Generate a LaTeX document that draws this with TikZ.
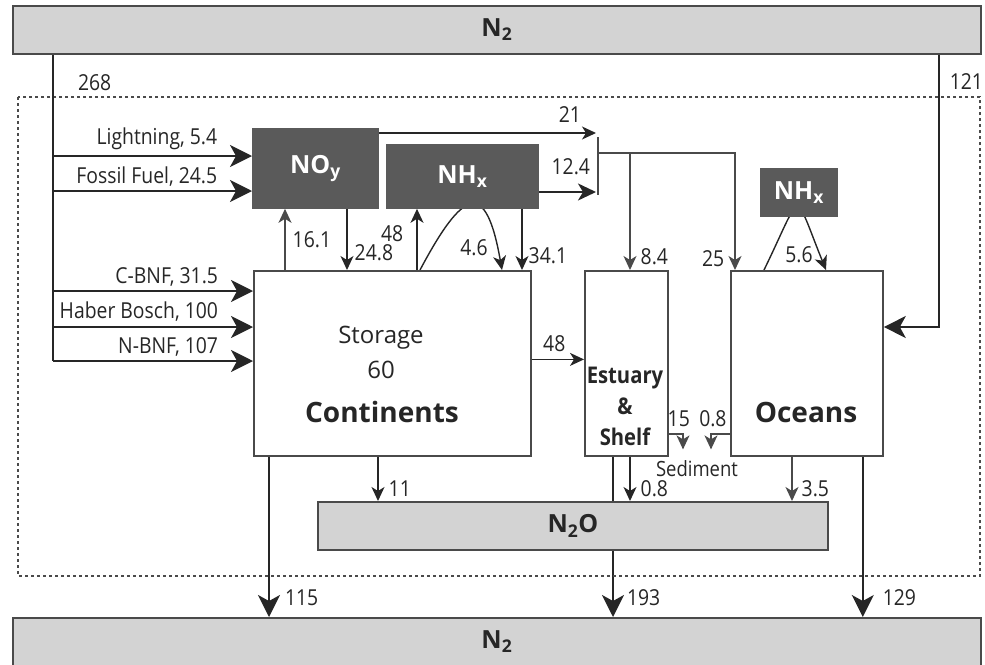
\documentclass[tikz,border=0pt]{standalone}
\usepackage{fontspec}
\setmainfont{Open Sans}
\newfontfamily\narrowfont{Open Sans}[FakeStretch=0.88]
\usepackage{tikz}
\usetikzlibrary{arrows.meta,positioning,calc,backgrounds}
\definecolor{nline}{HTML}{262626}
\definecolor{nedge}{HTML}{4A4A4A}
\definecolor{ndark}{HTML}{5A5A5A}
\definecolor{nlight}{HTML}{D3D3D3}

\begin{document}
\begin{tikzpicture}[
    x=1pt,
    y=-1pt,
    box/.style={rectangle, draw=nedge, line width=1.8pt, fill=white, anchor=north west, inner sep=0pt},
    pool/.style={box, fill=nlight, text=nline, font=\fontsize{25}{28}\selectfont\bfseries},
    gas/.style={box, draw=ndark, fill=ndark, text=white, font=\fontsize{25}{28}\selectfont\bfseries},
    flow/.style={draw=nline, line width=2pt},
    bigflow/.style={flow, -{Stealth[length=22pt, width=22pt, inset=6pt]}},
    midflow/.style={flow, -{Stealth[length=18pt, width=17pt, inset=5pt]}},
    smallflow/.style={draw=nline, line width=1.4pt, -{Stealth[length=14pt, width=13pt, inset=4pt]}},
    grayflow/.style={smallflow, draw=nedge},
    thinline/.style={draw=nedge, line width=1.4pt},
    num/.style={font=\narrowfont\fontsize{22}{24}\selectfont, text=nline, inner sep=2pt},
    src/.style={font=\narrowfont\fontsize{22}{26}\selectfont, text=nline, inner sep=0pt, anchor=base east},
    head/.style={font=\fontsize{28}{32}\selectfont\bfseries, text=nline},
    frame/.style={draw=nedge, line width=1.2pt, dash pattern=on 3pt off 3pt}
  ]
    \useasboundingbox (0,0) rectangle (985,664);
    \draw[frame] (18,97) rectangle (980,576);

    \node[pool, minimum width=968pt, minimum height=48pt] (n2top) at (12,5) {N\textsubscript{2}};
    \node[pool, minimum width=968pt, minimum height=48pt] (n2bot) at (12,617) {N\textsubscript{2}};
    \node[pool, minimum width=510pt, minimum height=48pt] (n2o) at (317,501) {N\textsubscript{2}O};

    \node[gas, minimum width=125pt, minimum height=79pt] (noy) at (252,128) {NO\textsubscript{y}};
    \node[gas, minimum width=151pt, minimum height=63pt] (nhxl) at (386,144) {NH\textsubscript{x}};
    \node[gas, minimum width=76pt, minimum height=47pt] (nhxr) at (760,168) {NH\textsubscript{x}};

    \node[box, minimum width=277pt, minimum height=185pt] (cont) at (253,270) {};
    \node[box, minimum width=83pt, minimum height=185pt] (est) at (584,270) {};
    \node[box, minimum width=152pt, minimum height=185pt] (ocean) at (730,270) {};

    \node[font=\fontsize{24}{28}\selectfont, text=nline] (storlab) at (381,338) {Storage};
    \node[font=\fontsize{24}{28}\selectfont, text=nline] (storval) at (381,370) {60};
    \node[head] (contlab) at (382,412) {Continents};
    \node[head] (oceanlab) at (806,412) {Oceans};
    \node[font=\narrowfont\bfseries\fontsize{23}{31}\selectfont, text=nline, align=center] (estlab) at (625,406) {Estuary\\\&\\Shelf};
    \node[font=\narrowfont\fontsize{21}{24}\selectfont, text=nline] (sedlab) at (697,469) {Sediment};

    \coordinate (trunk) at ([xshift=41pt]n2top.south west);
    \coordinate (lgt) at ([yshift=-28pt]noy.north west);
    \coordinate (fos) at ([yshift=-63pt]noy.north west);
    \coordinate (cbnf) at ([yshift=-21pt]cont.north west);
    \coordinate (hab) at ([yshift=-57pt]cont.north west);
    \coordinate (nbnf) at ([yshift=-91pt]cont.north west);
    \coordinate (mtop) at (596,133);
    \coordinate (mbot) at (596,192);
    \coordinate (mjoin) at (598,153);

    \draw[flow] (trunk) -- (trunk |- nbnf) node[num, right=22pt, pos=0.09] (l268) {268};
    \draw[bigflow] (trunk |- lgt) -- (lgt) node[src, pos=0.83, yshift=12pt] (lgtlab) {Lightning, 5.4};
    \draw[bigflow] (trunk |- fos) -- (fos) node[src, pos=0.83, yshift=8pt] (foslab) {Fossil Fuel, 24.5};
    \draw[bigflow] (trunk |- cbnf) -- (cbnf) node[src, pos=0.83, yshift=8pt] (cbnflab) {C-BNF, 31.5};
    \draw[bigflow] (trunk |- hab) -- (hab) node[src, pos=0.83, yshift=9pt] (hablab) {Haber Bosch, 100};
    \draw[bigflow] (trunk |- nbnf) -- (nbnf) node[src, pos=0.83, yshift=8pt] (nbnflab) {N-BNF, 107};

    \draw[bigflow] ([xshift=-43pt]n2top.south east) |- ([yshift=-57pt]ocean.north east) node[num, right=8pt, pos=0.05] (l121) {121};

    \draw[grayflow] ([xshift=32pt]cont.north west) coordinate (c16) -- (c16 |- noy.south) node[num, right=5pt, midway] (l16) {16.1};
    \draw[smallflow] ([xshift=95pt]noy.south west) coordinate (c24) -- (c24 |- cont.north) node[num, right=5pt, pos=0.72] (l24) {24.8};
    \draw[smallflow] ([xshift=164pt]cont.north west) coordinate (c48) -- (c48 |- nhxl.south) node[num, left=11pt, pos=0.6] (l48up) {48};
    \draw[smallflow] ([xshift=136pt]nhxl.south west) coordinate (c34) -- (c34 |- cont.north) node[num, right=4pt, pos=0.76] (l34) {34.1};
    \node[num] (l46) at (474,248) {4.6};

    \draw[smallflow] (noy.north east |- mtop) -- (mtop) node[num, above=8pt, pos=0.88] (l21) {21};
    \draw[midflow] (nhxl.east |- mbot) -- (mbot) node[num, above=14pt, pos=0.56] (l124) {12.4};
    \draw[thinline] ([yshift=-4pt]mtop -| mjoin) -- ([yshift=-3pt]mbot -| mjoin);
    \draw[grayflow] (mjoin) -| ([xshift=5pt]ocean.north west) node[num, left=8pt, pos=0.95] (l25) {25};
    \draw[grayflow] ([xshift=46pt]est.north west |- mjoin) -- ([xshift=46pt]est.north west) node[num, right=8pt, pos=0.89] (l84) {8.4};

    \draw[smallflow] ([yshift=4pt]cont.east) -- ([yshift=4pt]cont.east -| est.west) node[num, above=5pt, pos=0.43] (l48est) {48};

    \draw[grayflow] ([yshift=23pt]est.south east) -| ([xshift=-14pt, yshift=8pt]sedlab.north) node[num, above=4pt, pos=0.35] (l15) {15};
    \draw[grayflow] ([yshift=23pt]ocean.south west) -| ([xshift=14pt, yshift=8pt]sedlab.north) node[num, above=4pt, pos=0.45] (l08s) {0.8};

    \draw[smallflow] ([xshift=125pt]cont.south west) coordinate (c11) -- (c11 |- n2o.north) node[num, right=8pt, pos=0.72] (l11) {11};
    \draw[smallflow] ([xshift=46pt]est.south west) coordinate (c08) -- (c08 |- n2o.north) node[num, right=8pt, pos=0.72] (l08) {0.8};
    \draw[grayflow] ([xshift=62pt]ocean.south west) coordinate (c35) -- (c35 |- n2o.north) node[num, right=7pt, pos=0.72] (l35) {3.5};

    \draw[bigflow] ([xshift=16pt]cont.south west) coordinate (c115) -- (c115 |- n2bot.north) node[num, right=13pt, pos=0.88] (l115) {115};
    \draw[bigflow] ([xshift=-21pt]ocean.south east) coordinate (c129) -- (c129 |- n2bot.north) node[num, right=17pt, pos=0.88] (l129) {129};

    \node[num] (l56) at (799,255) {5.6};

    \begin{scope}[on background layer]
      \draw[smallflow] ([xshift=167pt]cont.north west) to[out=62, in=100, looseness=2.9] ([xshift=249pt]cont.north west);
      \draw[smallflow] ([xshift=34pt]ocean.north west) to[out=64, in=112, looseness=3.7] ([xshift=96pt]ocean.north west);
      \draw[bigflow] ([xshift=29pt]est.south west) coordinate (c193) -- (c193 |- n2bot.north) node[num, right=11pt, pos=0.88] (l193) {193};
    \end{scope}
  \end{tikzpicture}
\end{document}
